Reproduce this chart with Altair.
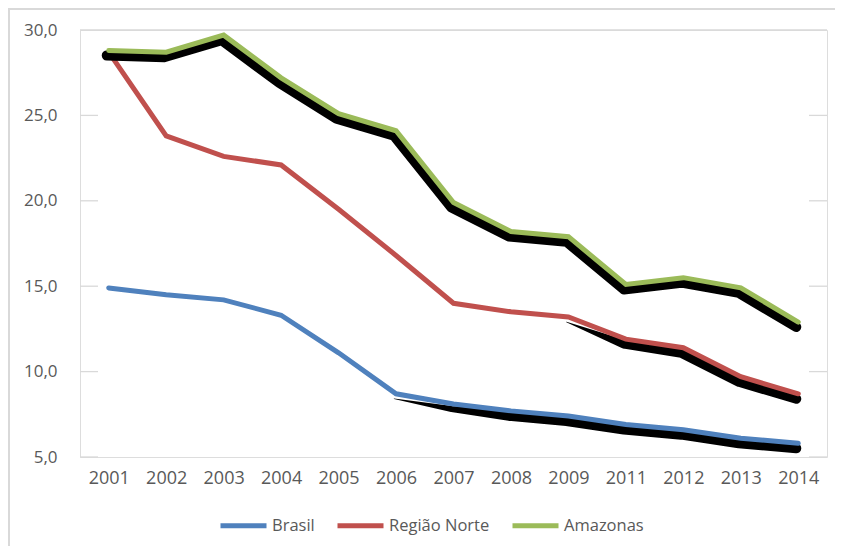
import altair as alt
import pandas as pd

years = ["2001", "2002", "2003", "2004", "2005", "2006", "2007", "2008", "2009",
         "2011", "2012", "2013", "2014"]
brasil = [14.9, 14.5, 14.2, 13.3, 11.1, 8.7, 8.1, 7.7, 7.4, 6.9, 6.6, 6.1, 5.8]
norte = [28.7, 23.8, 22.6, 22.1, 19.5, 16.8, 14.0, 13.5, 13.2, 11.9, 11.4, 9.7, 8.7]
amazonas = [28.8, 28.7, 29.7, 27.2, 25.1, 24.1, 19.9, 18.2, 17.9, 15.1, 15.5, 14.9, 12.9]
series_names = ["Brasil", "Região Norte", "Amazonas"]
series_colors = ["#4F81BD", "#C0504D", "#9BBB59"]
grid_values = [5, 10, 15, 20, 25]
top_grid = [30]

# shadow stroke widths per point (style only; 0 = no shadow)
shadow_w = {
    "Brasil": [0, 0, 0, 0, 0, 0.5, 6, 10, 10, 10, 10, 10, 10],
    "Região Norte": [0, 0, 0, 0, 0, 0, 0, 0, 0.5, 9, 10, 10, 10],
    "Amazonas": [10] * 13,
}

rows = []
for name, vals in zip(series_names, [brasil, norte, amazonas]):
    for i, (y, v) in enumerate(zip(years, vals)):
        rows.append({"ano": y, "valor": v, "serie": name, "sw": shadow_w[name][i]})
df = pd.DataFrame(rows)

W, H = 747, 427
GRAY = "#595959"
GRID = "#D9D9D9"
FONT = "Open Sans"

xenc = alt.X("ano:N", sort=years, scale=alt.Scale(domain=years, paddingOuter=0.5, paddingInner=1),
             axis=alt.Axis(title=None, labelAngle=0, domain=False, ticks=False, grid=False,
                           labelPadding=12, labelFontSize=18, labelColor=GRAY, labelFont=FONT))
yscale = alt.Scale(domain=[5, 30], nice=False, zero=False)
yenc = alt.Y("valor:Q", scale=yscale,
             axis=alt.Axis(title=None, values=[5, 10, 15, 20, 25, 30], domain=False, ticks=False,
                           grid=False, labelPadding=23, labelFontSize=17, labelColor=GRAY,
                           labelFont=FONT,
                           labelExpr="replace(format(datum.value, '.1f'), '.', ',')"))

base = alt.Chart(df)

grid_df = pd.DataFrame({"g": grid_values})
grid_left = alt.Chart(grid_df).mark_rule(color=GRID, strokeWidth=1.3).encode(
    y=alt.Y("g:Q", scale=yscale), x=alt.value(0), x2=alt.value(18))
grid_right = alt.Chart(grid_df).mark_rule(color=GRID, strokeWidth=1.3).encode(
    y=alt.Y("g:Q", scale=yscale), x=alt.value(W - 18), x2=alt.value(W))
grid_top = alt.Chart(pd.DataFrame({"g": top_grid})).mark_rule(color=GRID, strokeWidth=1.3).encode(
    y=alt.Y("g:Q", scale=yscale), x=alt.value(0), x2=alt.value(W))

frame_top = alt.Chart(pd.DataFrame({"g": [0]})).mark_rule(color=GRID, strokeWidth=2).encode(
    x=alt.value(-72), x2=alt.value(W + 8), y=alt.value(-21))
frame_left = alt.Chart(pd.DataFrame({"g": [0]})).mark_rule(color=GRID, strokeWidth=2).encode(
    x=alt.value(-71), y=alt.value(-22), y2=alt.value(H + 89))

color_scale = alt.Scale(domain=series_names, range=series_colors)

layers = [grid_left, grid_right, grid_top, frame_top, frame_left]
for name in series_names:
    sub = base.transform_filter(alt.datum.serie == name)
    shadow = sub.transform_filter(alt.datum.sw > 0).mark_trail(
        color="black", xOffset=-2, yOffset=5).encode(
        x=xenc, y=yenc, size=alt.Size("sw:Q", scale=None, legend=None), order=alt.Order("ano:N"))
    line = sub.mark_line(strokeWidth=5, strokeCap="round").encode(
        x=xenc, y=yenc,
        color=alt.Color("serie:N", scale=color_scale, sort=series_names,
                        legend=alt.Legend(title=None, orient="none", direction="horizontal",
                                          legendX=138, legendY=470,
                                          symbolType="stroke", symbolSize=2116,
                                          symbolStrokeWidth=5, labelFontSize=16.5,
                                          labelFont=FONT, labelColor=GRAY,
                                          labelOffset=3, columnPadding=12, padding=0)))
    layers += [shadow, line]

chart = alt.layer(*layers).properties(
    width=W, height=H,
    autosize=alt.AutoSizeParams(type="none"),
    padding={"left": 72, "top": 22, "right": 8, "bottom": 89},
).configure_view(stroke=None).configure(background="white")

chart.save("out.html", embed_options={"renderer": "svg", "actions": False})
